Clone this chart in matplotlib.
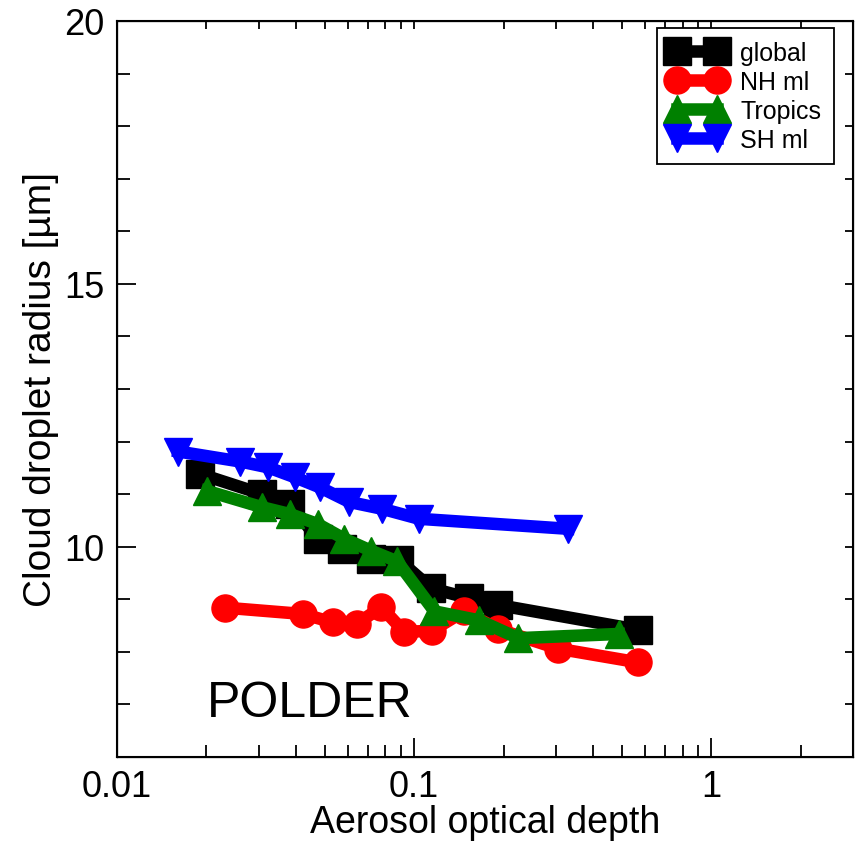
import numpy as np
import matplotlib
matplotlib.use("Agg")
import matplotlib.pyplot as plt
from matplotlib.ticker import FixedLocator, NullFormatter, MultipleLocator

plt.rcParams["font.family"] = ["Liberation Sans", "DejaVu Sans"]

# global
aod_global = [0.0191, 0.0308, 0.0382, 0.0474, 0.0574, 0.0718, 0.0891, 0.114, 0.153, 0.192, 0.566]
r_global = [11.38, 11.0, 10.81, 10.15, 9.96, 9.77, 9.74, 9.21, 9.02, 8.89, 8.42]
# NH ml
aod_nh = [0.0231, 0.0422, 0.0532, 0.064, 0.0776, 0.0926, 0.1148, 0.147, 0.192, 0.305, 0.566]
r_nh = [8.84, 8.72, 8.56, 8.53, 8.85, 8.38, 8.40, 8.77, 8.43, 8.06, 7.80]
# Tropics
aod_trop = [0.0201, 0.0308, 0.0382, 0.0474, 0.0582, 0.0718, 0.0877, 0.117, 0.165, 0.224, 0.488]
r_trop = [11.06, 10.75, 10.62, 10.43, 10.15, 9.92, 9.72, 8.77, 8.60, 8.26, 8.34]
# SH ml
aod_sh = [0.0161, 0.026, 0.0322, 0.0397, 0.0481, 0.0606, 0.0781, 0.104, 0.33]
r_sh = [11.81, 11.62, 11.51, 11.32, 11.13, 10.85, 10.72, 10.53, 10.34]

fig = plt.figure(figsize=(8.6, 8.45), dpi=100)
ax = fig.add_axes([0.136, 0.103, 0.856, 0.871])

lw = 9
ms = 19.5
ax.plot(aod_global, r_global, color="black", lw=lw, marker="s", ms=ms, label="global")
ax.plot(aod_nh, r_nh, color="red", lw=lw, marker="o", ms=ms, label="NH ml")
ax.plot(aod_trop, r_trop, color="green", lw=lw, marker="^", ms=ms, label="Tropics")
ax.plot(aod_sh, r_sh, color="blue", lw=lw, marker="v", ms=ms, label="SH ml")

minors = [m * 10.0 ** e for e in (-2, -1, 0) for m in range(2, 10)]

ax.set_xscale("log")
ax.set_xlim(0.01, 3)
ax.set_ylim(6, 20)
ax.set_xticks([0.01, 0.1, 1])
ax.set_xticklabels(["0.01", "0.1", "1"])
ax.xaxis.set_minor_locator(FixedLocator(minors))
ax.xaxis.set_minor_formatter(NullFormatter())
ax.set_yticks([10, 15, 20])
ax.yaxis.set_minor_locator(MultipleLocator(1))

ax.tick_params(which="both", direction="in", labelsize=26, width=1.3)
ax.tick_params(which="major", length=14, pad=9)
ax.tick_params(which="minor", length=9)
for s in ax.spines.values():
    s.set_linewidth(1.5)

# short ticks on top and right
axt = ax.twiny()
axt.set_xscale("log")
axt.set_xlim(ax.get_xlim())
axt.xaxis.set_major_locator(FixedLocator([0.01, 0.1, 1] + minors))
axt.xaxis.set_minor_locator(FixedLocator([]))
axt.tick_params(which="both", direction="in", length=6, width=1.3, labeltop=False)
axr = ax.twinx()
axr.set_ylim(ax.get_ylim())
axr.yaxis.set_major_locator(MultipleLocator(1))
axr.tick_params(which="both", direction="in", length=6, width=1.3, labelright=False)

ax.set_xlabel("Aerosol optical depth", fontsize=27, labelpad=0)
ax.set_ylabel("Cloud droplet radius [\u00b5m]", fontsize=28, labelpad=4)

ax.text(0.0201, 6.77, "POLDER", fontsize=36, va="baseline", ha="left")

leg = axr.legend(*ax.get_legend_handles_labels(), loc="upper right",
                 bbox_to_anchor=(0.974, 0.99), numpoints=2, fontsize=18,
                 fancybox=False, edgecolor="black", framealpha=1,
                 handlelength=2.2, borderaxespad=0, labelspacing=0.2,
                 handletextpad=0.65, borderpad=0.5)
leg.get_frame().set_linewidth(1.3)

fig.savefig("out.png", dpi=100)
